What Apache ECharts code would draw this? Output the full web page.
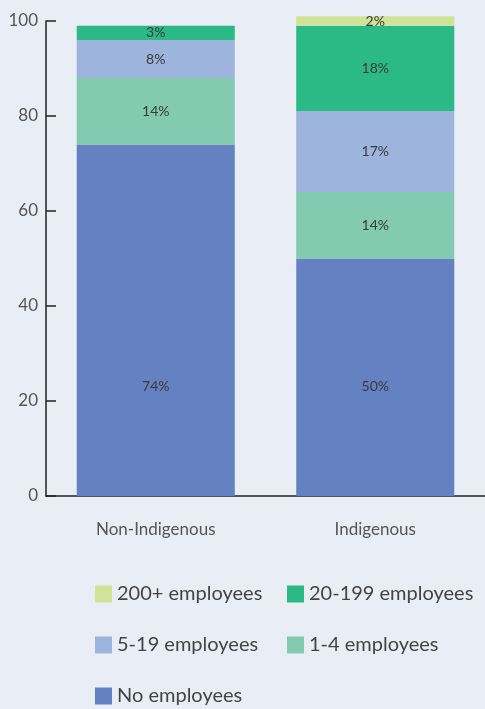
<!DOCTYPE html>
<html>
<head>
<meta charset="utf-8">
<script src="https://cdn.jsdelivr.net/npm/echarts@6/dist/echarts.min.js"></script>
<style>
  html, body { margin: 0; padding: 0; background: #e9edf6; }
  #chart { width: 485px; height: 709px; }
</style>
</head>
<body>
<div id="chart"></div>
<script>
const categories = ['Non-Indigenous', 'Indigenous'];
const seriesNames = ['No employees', '1-4 employees', '5-19 employees', '20-199 employees', '200+ employees'];
const noEmployees = [74, 50];
const oneToFour = [14, 14];
const fiveToNineteen = [8, 17];
const twentyTo199 = [3, 18];
const over200 = ['-', 2];
const yTicks = [0, 20, 40, 60, 80, 100];

const colors = ['#6482c2', '#82cbb0', '#9db4dc', '#2bb985', '#d0e396'];
const values = [noEmployees, oneToFour, fiveToNineteen, twentyTo199, over200];

const chart = echarts.init(document.getElementById('chart'));

// legend slots: [name, left, top]
const legendSlots = [
  ['200+ employees', 90, 579],
  ['20-199 employees', 282, 579],
  ['5-19 employees', 90, 630],
  ['1-4 employees', 282, 630],
  ['No employees', 90, 681]
];

const option = {
  backgroundColor: '#e9edf6',
  textStyle: { fontFamily: 'Lato' },
  grid: { left: 46, right: -3, top: 21, bottom: 213, containLabel: false },
  legend: legendSlots.map((s) => ({
    data: [s[0]],
    left: s[1],
    top: s[2],
    itemWidth: 17,
    itemHeight: 17,
    itemGap: 0,
    icon: 'rect',
    textStyle: { fontSize: 20, color: '#444', fontFamily: 'Lato' }
  })),
  xAxis: {
    type: 'category',
    data: categories,
    axisLine: { lineStyle: { color: '#222', width: 1.5 } },
    axisTick: { inside: true, length: 14, lineStyle: { color: '#222', width: 1.5 } },
    axisLabel: { fontSize: 17, color: '#555', margin: 25 }
  },
  yAxis: {
    type: 'value',
    min: yTicks[0],
    max: yTicks[yTicks.length - 1],
    interval: 20,
    splitLine: { show: false },
    axisLine: { show: true, lineStyle: { color: '#222', width: 1.5 } },
    axisTick: { show: true, inside: true, length: 10, lineStyle: { color: '#222', width: 1.5 } },
    axisLabel: { fontSize: 17, color: '#555', margin: 8 }
  },
  series: seriesNames.map((name, i) => ({
    name: name,
    type: 'bar',
    stack: 'total',
    barWidth: '72%',
    clip: false,
    itemStyle: { color: colors[i] },
    label: {
      show: true,
      // the bottom segment's labels sit at a common height in the original
      position: i === 0 ? 'insideBottom' : 'inside',
      distance: i === 0 ? 103 : 5,
      formatter: '{c}%',
      fontSize: 14,
      color: '#3a3a3a',
      fontFamily: 'Lato'
    },
    data: values[i]
  }))
};

chart.setOption(option);
</script>
</body>
</html>
